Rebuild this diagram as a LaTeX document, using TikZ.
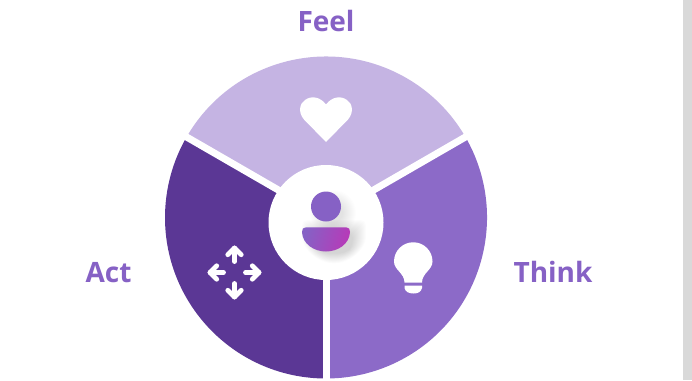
\documentclass[tikz,border=0pt]{standalone}
\usepackage{fontspec}
\setmainfont{Open Sans}
\usetikzlibrary{calc,positioning}

\definecolor{feelcolor}{HTML}{C5B4E3}
\definecolor{thinkcolor}{HTML}{8C6AC8}
\definecolor{actcolor}{HTML}{5B3795}
\definecolor{labelcolor}{HTML}{8661C5}
\definecolor{barcolor}{HTML}{D9D9D9}
\definecolor{pinkcolor}{HTML}{B73AB8}

\tikzset{
    wedge/.style = {draw = white, line width = 5.25pt},
    label text/.style = {text = labelcolor, font = \bfseries\fontsize{21}{24}\selectfont, inner sep = 0pt},
    icon/.style = {fill = white, draw = none},
    move arrow/.style = {draw = white, line width = 3.6pt, line cap = round, line join = round}
}

\begin{document}
\begin{tikzpicture}[x = 0.75pt, y = 0.75pt]

    \useasboundingbox (0,0) rectangle (692,380);
    \fill[white] (0,0) rectangle (692,380);
    \fill[barcolor] (682.5,0) rectangle (692,380);

    \coordinate (o) at (326,162.5);

    % the three wedges
    \fill[feelcolor] (o) -- ++(150:161) arc[start angle = 150, end angle = 30, radius = 161] -- cycle;
    \fill[thinkcolor] (o) -- ++(30:161) arc[start angle = 30, end angle = -90, radius = 161] -- cycle;
    \fill[actcolor] (o) -- ++(-90:161) arc[start angle = -90, end angle = -210, radius = 161] -- cycle;

    % gaps between them
    \draw[wedge] (o) -- ++(-90:170);
    \draw[wedge] (o) -- ++(30:170);
    \draw[wedge] (o) -- ++(150:170);

    \node[circle, fill = white, minimum size = 86.25pt, inner sep = 0pt] (hub) at (326,157.5) {};

    % person with a soft shadow
    \foreach \s in {1,...,14} {
        \fill[black, opacity = 0.008] (333,167) circle[radius = 9 + \s];
        \fill[black, opacity = 0.013, rounded corners = 4pt] (316 - \s,146 + \s) -- (352 + \s,146 + \s) -- (352 + \s,138)
            .. controls (348,125 - \s) and (320,125 - \s) .. (316 - \s,138) -- cycle;
    }
    \fill[labelcolor] (326,173.5) circle[radius = 15];
    \shade[left color = labelcolor, right color = pinkcolor, shading angle = 75]
        (306,152.7) -- (346,152.7) .. controls (349,152.7) and (350,151) .. (350,148)
        .. controls (349.5,136) and (338,128.5) .. (326,128.5)
        .. controls (314,128.5) and (302.5,136) .. (302,148)
        .. controls (302,151) and (303,152.7) .. (306,152.7) -- cycle;

    % heart
    \fill[icon] (326,238) -- (304,260.5) .. controls (297.5,268) and (300,277) .. (305,280)
        .. controls (311,284.5) and (320,283.5) .. (326,275.5)
        .. controls (332,283.5) and (341,284.5) .. (347,280)
        .. controls (352,277) and (354.5,268) .. (348,260.5) -- cycle;

    % bulb
    \fill[icon] (404.5,97.5) .. controls (404.5,107) and (394,110) .. (394,118.5)
        arc[start angle = 180, end angle = 0, radius = 19.25]
        .. controls (432.5,110) and (422,107) .. (422,97.5) -- cycle;
    \fill[icon] (404.5,94.5) -- (422,94.5) -- (422,92) .. controls (421,88) and (418,86.5) .. (413.5,86.5)
        .. controls (409,86.5) and (405.5,88) .. (404.5,92) -- cycle;

    % four arrows
    \coordinate (m) at (234.5,107.5);
    \foreach \a in {0,90,180,270} {
        \draw[move arrow] ($(m) + (\a:11)$) -- ($(m) + (\a:24.5)$);
        \draw[move arrow] ($(m) + (\a:24.5) + (\a+135:9.5)$) -- ($(m) + (\a:24.5)$) -- ($(m) + (\a:24.5) + (\a-135:9.5)$);
    }

    % labels
    \node[label text] (feel) at (326,359) {Feel};
    \node[label text] (think) at (553,108) {Think};
    \node[label text] (act) at (108.5,107) {Act};

\end{tikzpicture}
\end{document}
